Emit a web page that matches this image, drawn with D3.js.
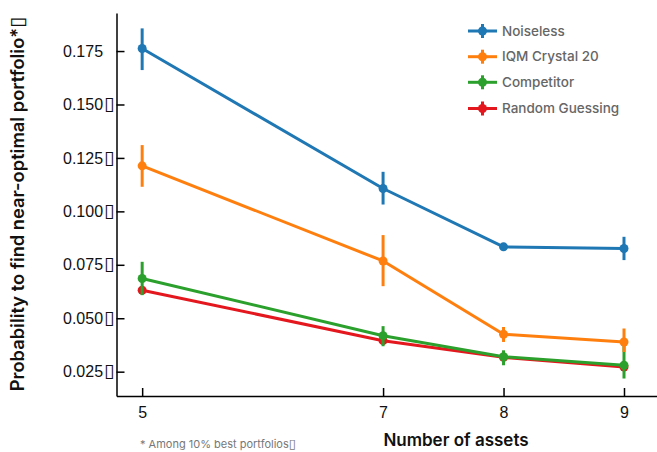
<!DOCTYPE html>
<html>
<head>
<meta charset="utf-8">
<script src="https://cdn.jsdelivr.net/npm/d3@7"></script>
<style>
  html, body { margin: 0; padding: 0; background: #fff; }
  svg { display: block; font-family: Inter, "Noto Sans", sans-serif; }
</style>
</head>
<body>
<svg id="chart" width="657" height="452"></svg>
<script>
// ---- data ----
const assets = [5, 7, 8, 9];
const seriesNames = ["Noiseless", "IQM Crystal 20", "Competitor", "Random Guessing"];
const noiseless     = [0.1762, 0.1107, 0.0834, 0.0826];
const noiselessLo   = [0.1661, 0.1032, 0.0828, 0.0772];
const noiselessHi   = [0.1856, 0.1185, 0.0840, 0.0881];
const iqm           = [0.1213, 0.0768, 0.0425, 0.0389];
const iqmLo         = [0.1115, 0.0650, 0.0389, 0.0342];
const iqmHi         = [0.1310, 0.0889, 0.0459, 0.0452];
const competitor    = [0.0686, 0.0418, 0.0320, 0.0280];
const competitorLo  = [0.0608, 0.0369, 0.0280, 0.0218];
const competitorHi  = [0.0764, 0.0463, 0.0350, 0.0382];
const randomGuess   = [0.0631, 0.0395, 0.0317, 0.0272];
const randomLo      = [0.0626, 0.0390, 0.0312, 0.0267];
const randomHi      = [0.0636, 0.0400, 0.0322, 0.0277];
const yTicks = [0.025, 0.050, 0.075, 0.100, 0.125, 0.150, 0.175];
const yTickLabels = ["0.025", "0.050", "0.075", "0.100", "0.125", "0.150", "0.175"];
const yTickHasBox = [true, true, true, true, true, true, false];
const xTicks = [5, 7, 8, 9];
const colors = ["#1f77b4", "#ff7f0e", "#2ca02c", "#e3171d"];

const series = [
  { name: seriesNames[0], v: noiseless,   lo: noiselessLo,  hi: noiselessHi,  c: colors[0] },
  { name: seriesNames[1], v: iqm,         lo: iqmLo,        hi: iqmHi,        c: colors[1] },
  { name: seriesNames[2], v: competitor,  lo: competitorLo, hi: competitorHi, c: colors[2] },
  { name: seriesNames[3], v: randomGuess, lo: randomLo,     hi: randomHi,     c: colors[3] }
];

// ---- layout ----
const svg = d3.select("#chart");
const plotL = 116.5, plotR = 657, plotT = 13, plotB = 396;
const x = d3.scaleLinear().domain([4.787, 9.274]).range([plotL, plotR]);
const y = d3.scaleLinear().domain([0.01362, 0.19280]).range([plotB, plotT]);

// axes
const yAxis = d3.axisLeft(y).tickValues(yTicks)
  .tickFormat((d, i) => yTickLabels[i]).tickSizeInner(-8).tickSizeOuter(0).tickPadding(2);
const gy = svg.append("g").attr("transform", `translate(${plotL},0)`).call(yAxis);
gy.select(".domain").attr("stroke", "#000").attr("stroke-width", 1.5);
gy.selectAll(".tick line").attr("stroke", "#000").attr("stroke-width", 1.5);
gy.selectAll(".tick text").attr("fill", "#111").attr("font-size", 16).attr("font-weight", 500)
  .each(function(d, i) {
    const t = d3.select(this);
    t.append("tspan").attr("font-family", "DejaVu Sans").attr("font-weight", 400)
      .attr("font-size", 19).attr("dx", 1)
      .attr("fill", yTickHasBox[i] ? "#111" : "none").text("\u25AF");
  });

const xAxis = d3.axisBottom(x).tickValues(xTicks).tickFormat(d3.format("d"))
  .tickSizeInner(-8).tickSizeOuter(0).tickPadding(11);
const gx = svg.append("g").attr("transform", `translate(0,${plotB})`).call(xAxis);
gx.select(".domain").attr("stroke", "#000").attr("stroke-width", 1.5);
gx.selectAll(".tick line").attr("stroke", "#000").attr("stroke-width", 1.5);
gx.selectAll(".tick text").attr("fill", "#111").attr("font-size", 16).attr("font-weight", 500);

// axis titles
svg.append("text").attr("x", 456).attr("y", 446).attr("text-anchor", "middle")
  .attr("font-size", 17).attr("font-weight", 600).attr("fill", "#111").text("Number of assets");
const yl = svg.append("text").attr("transform", "translate(24,204) rotate(-90)").attr("text-anchor", "middle")
  .attr("font-size", 18.3).attr("font-weight", 600).attr("fill", "#111");
yl.append("tspan").text("Probability to find near-optimal portfolio*");
yl.append("tspan").attr("font-family", "DejaVu Sans").attr("font-weight", 400).attr("font-size", 20).text("\u25AF");
const fn = svg.append("text").attr("x", 140).attr("y", 448).attr("font-size", 11).attr("fill", "#777");
fn.append("tspan").text("* Among 10% best portfolios");
fn.append("tspan").attr("font-family", "DejaVu Sans").attr("font-size", 13).text("\u25AF");

// series (draw in reverse so Noiseless ends on top)
const line = d3.line().x((d, i) => x(assets[i])).y(d => y(d));
const drawOrder = [3, 2, 1, 0];
drawOrder.forEach(si => {
  const s = series[si];
  const g = svg.append("g");
  g.append("path").datum(s.v).attr("d", line).attr("fill", "none")
    .attr("stroke", s.c).attr("stroke-width", 3).attr("stroke-linejoin", "round");
  g.selectAll("line.err").data(assets).join("line").attr("class", "err")
    .attr("x1", d => x(d)).attr("x2", d => x(d))
    .attr("y1", (d, i) => y(s.lo[i])).attr("y2", (d, i) => y(s.hi[i]))
    .attr("stroke", s.c).attr("stroke-width", 3);
  g.selectAll("circle").data(assets).join("circle")
    .attr("cx", d => x(d)).attr("cy", (d, i) => y(s.v[i])).attr("r", 4.5).attr("fill", s.c);
});

// legend
const lg = svg.append("g");
const legendY = [31, 56.7, 82.3, 108.5];
series.forEach((s, i) => {
  const yy = legendY[i];
  lg.append("line").attr("x1", 468).attr("x2", 497).attr("y1", yy).attr("y2", yy)
    .attr("stroke", s.c).attr("stroke-width", 3);
  lg.append("line").attr("x1", 482.5).attr("x2", 482.5).attr("y1", yy - 7).attr("y2", yy + 7)
    .attr("stroke", s.c).attr("stroke-width", 3);
  lg.append("circle").attr("cx", 482.5).attr("cy", yy).attr("r", 4.5).attr("fill", s.c);
  lg.append("text").attr("x", 502).attr("y", yy).attr("dy", "0.35em")
    .attr("font-size", 13.5).attr("font-weight", 500).attr("fill", "#666").text(s.name);
});
</script>
</body>
</html>
